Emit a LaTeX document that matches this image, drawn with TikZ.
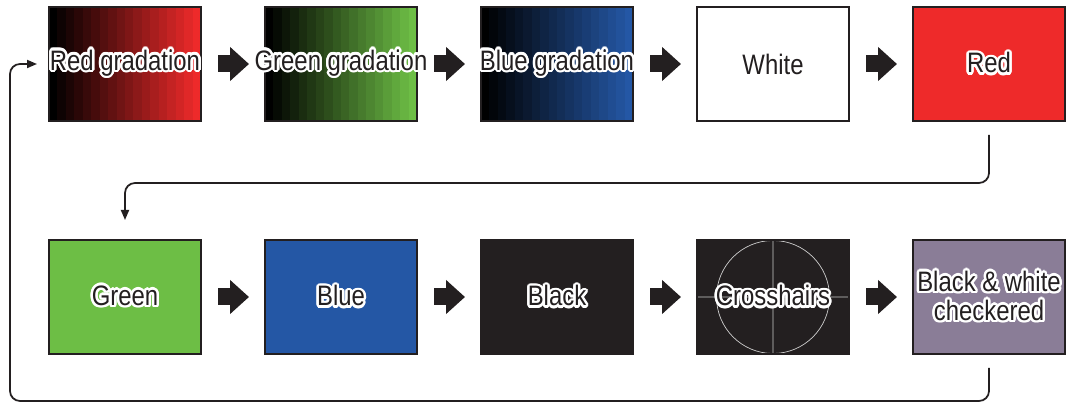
\documentclass[tikz,border=0pt]{standalone}
\usepackage{xcolor}
\usepackage{fontspec}
\usepackage{contour}
\usepackage{tikz}
\usetikzlibrary{arrows.meta,positioning,calc}
\newfontfamily\lblfont{Liberation Sans}[FakeStretch=0.85]
\contourlength{1.4pt}
\definecolor{boxline}{HTML}{231F20}
\definecolor{redfill}{HTML}{EE2A2A}
\definecolor{grnfill}{HTML}{6DBE45}
\definecolor{blufill}{HTML}{2457A5}
\definecolor{chkfill}{HTML}{8A7D97}
\newcommand{\lbl}[1]{\contour{white}{#1}}

\begin{document}
\begin{tikzpicture}[
  box/.style={rectangle, draw=boxline, line width=1pt, minimum width=3.04cm, minimum height=2.28cm, inner sep=0pt, outer sep=0pt},
  txt/.style={align=center, text=boxline, font=\lblfont\fontsize{16}{16.5}\selectfont},
  gradfill/.style={path picture={
    \foreach \i in {0,...,17}{
      \pgfmathsetmacro{\fa}{\i/18}
      \pgfmathsetmacro{\fb}{(\i+1)/18}
      \pgfmathsetmacro{\pct}{\i*100/17}
      \fill[#1!\pct!black] ($(path picture bounding box.south west)!\fa!(path picture bounding box.south east)$) rectangle ($(path picture bounding box.north west)!\fb!(path picture bounding box.north east)$);
    }}},
  crossfill/.style={fill=boxline, path picture={
    \draw[gray!40, line width=0.4pt] (path picture bounding box.west) -- (path picture bounding box.east)
      (path picture bounding box.north) -- (path picture bounding box.south)
      (path picture bounding box.center) circle (1.13cm);}},
  blk/.style={line width=0.34cm, draw=boxline, -{Triangle[length=0.38cm,width=0.66cm]}, shorten <=0.34cm, shorten >=0.32cm},
  conn/.style={line width=1pt, draw=boxline, rounded corners=0.2cm, -{Triangle[length=0.2cm,width=0.16cm]}}
]
\useasboundingbox (0,0) rectangle (21.38,-8.06);
% top row
\node[box, gradfill=redfill, label={[txt]center:\lbl{Red gradation}}] (rgrad) at (2.5,-1.28) {};
\node[box, gradfill=grnfill, right=1.28cm of rgrad, label={[txt]center:\lbl{Green gradation}}] (ggrad) {};
\node[box, gradfill=blufill, right=1.28cm of ggrad, label={[txt]center:\lbl{Blue gradation}}] (bgrad) {};
\node[box, fill=white, right=1.28cm of bgrad, label={[txt]center:White}] (white) {};
\node[box, fill=redfill, right=1.28cm of white, label={[txt]center:\lbl{Red}}] (red) {};
% bottom row
\node[box, fill=grnfill, below=2.38cm of rgrad, label={[txt]center:\lbl{Green}}] (green) {};
\node[box, fill=blufill, right=1.28cm of green, label={[txt]center:\lbl{Blue}}] (blue) {};
\node[box, fill=boxline, right=1.28cm of blue, label={[txt]center:\lbl{Black}}] (black) {};
\node[box, crossfill, right=1.28cm of black, label={[txt]center:\lbl{Crosshairs}}] (cross) {};
\node[box, fill=chkfill, right=1.28cm of cross, label={[txt]center:\lbl{Black \& white}\\\lbl{checkered}}] (check) {};
\coordinate (back) at (0.2,-1.28);
\draw[blk] (rgrad) -- (ggrad);
\draw[blk] (ggrad) -- (bgrad);
\draw[blk] (bgrad) -- (white);
\draw[blk] (white) -- (red);
\draw[blk] (green) -- (blue);
\draw[blk] (blue) -- (black);
\draw[blk] (black) -- (cross);
\draw[blk] (cross) -- (check);
\draw[conn] ([yshift=-0.28cm]red.south) -- ++(0,-0.96) -| ([yshift=0.4cm]green.north);
\draw[conn] ([yshift=-0.28cm]check.south) -- ++(0,-0.66) -| (back) -- ([xshift=-0.24cm]rgrad.west);
\end{tikzpicture}
\end{document}
